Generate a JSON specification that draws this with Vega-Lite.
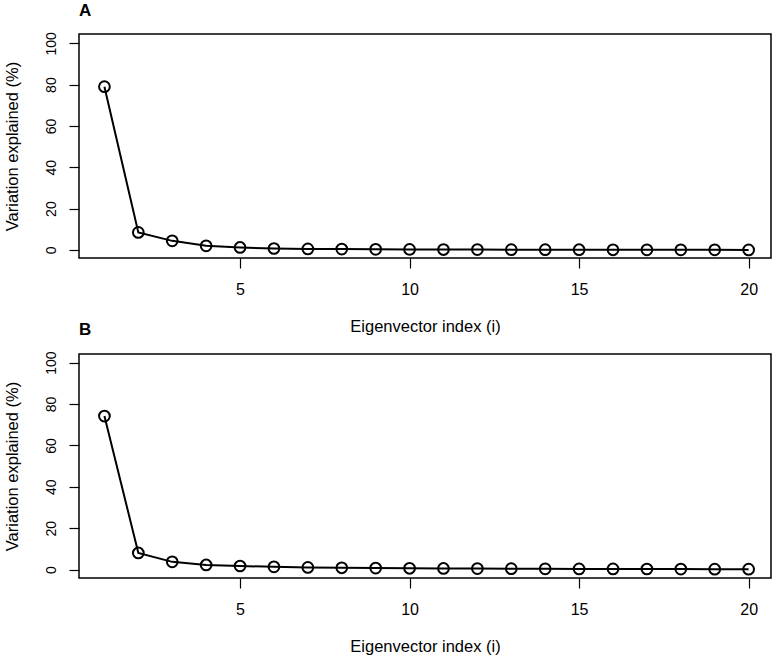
{
  "$schema": "https://vega.github.io/schema/vega-lite/v6.json",
  "background": "white",
  "padding": {"left": 3, "top": 0, "right": 5, "bottom": 2},
  "bounds": "flush",
  "spacing": 96,
  "datasets": {
    "a": [
      {"i": 1, "v": 79.0}, {"i": 2, "v": 8.5}, {"i": 3, "v": 4.4}, {"i": 4, "v": 2.0},
      {"i": 5, "v": 1.2}, {"i": 6, "v": 0.7}, {"i": 7, "v": 0.5}, {"i": 8, "v": 0.4},
      {"i": 9, "v": 0.3}, {"i": 10, "v": 0.25}, {"i": 11, "v": 0.2}, {"i": 12, "v": 0.18},
      {"i": 13, "v": 0.15}, {"i": 14, "v": 0.12}, {"i": 15, "v": 0.1}, {"i": 16, "v": 0.08},
      {"i": 17, "v": 0.06}, {"i": 18, "v": 0.05}, {"i": 19, "v": 0.04}, {"i": 20, "v": 0.03}
    ],
    "b": [
      {"i": 1, "v": 74.2}, {"i": 2, "v": 8.0}, {"i": 3, "v": 3.7}, {"i": 4, "v": 2.2},
      {"i": 5, "v": 1.7}, {"i": 6, "v": 1.3}, {"i": 7, "v": 1.0}, {"i": 8, "v": 0.85},
      {"i": 9, "v": 0.7}, {"i": 10, "v": 0.6}, {"i": 11, "v": 0.5}, {"i": 12, "v": 0.45},
      {"i": 13, "v": 0.4}, {"i": 14, "v": 0.35}, {"i": 15, "v": 0.3}, {"i": 16, "v": 0.28},
      {"i": 17, "v": 0.25}, {"i": 18, "v": 0.2}, {"i": 19, "v": 0.18}, {"i": 20, "v": 0.15}
    ]
  },
  "config": {
    "font": "Liberation Sans",
    "view": {"stroke": "black", "strokeWidth": 1.5},
    "title": {"anchor": "start", "frame": "group", "fontSize": 17, "fontWeight": "bold", "color": "black", "offset": 12, "baseline": "bottom"},
    "axis": {
      "domain": false, "grid": false, "tickColor": "black", "tickWidth": 1.2,
      "labelColor": "black", "titleColor": "black", "titleFontSize": 16.5,
      "titleFontWeight": "normal", "labelFont": "Liberation Sans", "titleFont": "Liberation Sans"
    },
    "axisX": {"tickSize": 10, "labelPadding": 13, "titlePadding": 21, "labelFontSize": 16},
    "axisY": {"tickSize": 10, "labelPadding": 11, "titlePadding": 24, "labelFontSize": 14, "labelAngle": 270, "labelAlign": "center", "labelBaseline": "bottom"}
  },
  "vconcat": [
    {
      "title": "A",
      "width": 692, "height": 224,
      "data": {"name": "a"},
      "encoding": {
        "x": {"field": "i", "type": "quantitative", "scale": {"domain": [0.25, 20.66], "nice": false, "zero": false},
              "axis": {"values": [5, 10, 15, 20], "title": "Eigenvector index (i)"}},
        "y": {"field": "v", "type": "quantitative", "scale": {"domain": [-3.9, 104.5], "nice": false, "zero": false},
              "axis": {"values": [0, 20, 40, 60, 80, 100], "title": "Variation explained (%)"}}
      },
      "layer": [
        {"mark": {"type": "line", "color": "black", "strokeWidth": 2}},
        {"mark": {"type": "point", "shape": "circle", "filled": false, "color": "black", "strokeWidth": 2, "size": 115, "opacity": 1}}
      ]
    },
    {
      "title": "B",
      "width": 692, "height": 224,
      "data": {"name": "b"},
      "encoding": {
        "x": {"field": "i", "type": "quantitative", "scale": {"domain": [0.25, 20.66], "nice": false, "zero": false},
              "axis": {"values": [5, 10, 15, 20], "title": "Eigenvector index (i)"}},
        "y": {"field": "v", "type": "quantitative", "scale": {"domain": [-4.1, 104.2], "nice": false, "zero": false},
              "axis": {"values": [0, 20, 40, 60, 80, 100], "title": "Variation explained (%)"}}
      },
      "layer": [
        {"mark": {"type": "line", "color": "black", "strokeWidth": 2}},
        {"mark": {"type": "point", "shape": "circle", "filled": false, "color": "black", "strokeWidth": 2, "size": 115, "opacity": 1}}
      ]
    }
  ]
}
